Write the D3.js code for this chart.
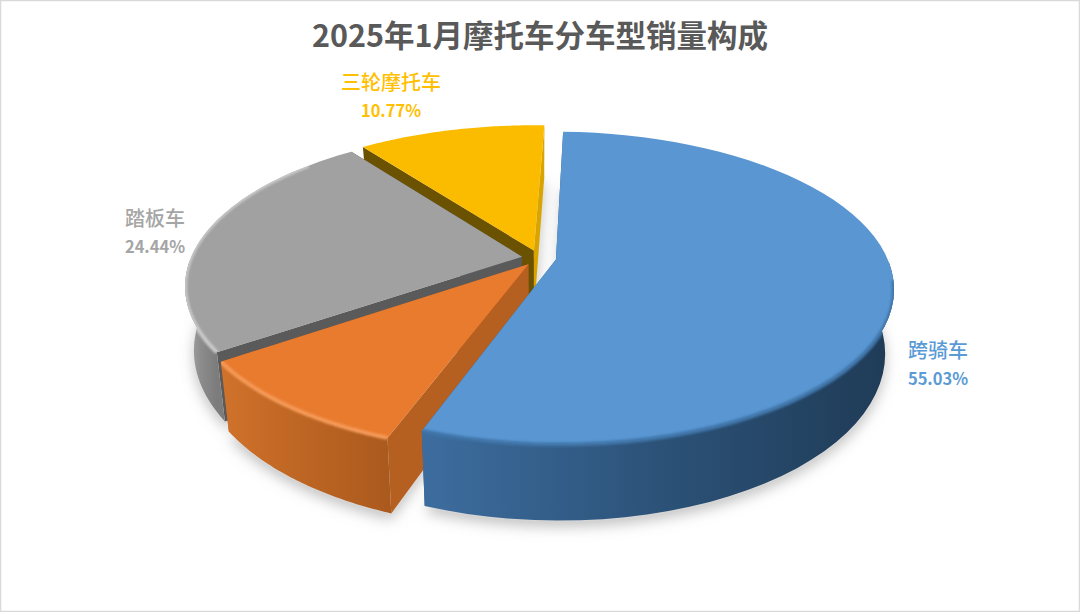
<!DOCTYPE html>
<html>
<head>
<meta charset="utf-8">
<script src="https://cdn.jsdelivr.net/npm/d3@7"></script>
<style>
  html, body { margin: 0; padding: 0; background: #fff; }
  svg { display: block; }
  text { font-family: "Noto Sans CJK SC", sans-serif; }
</style>
</head>
<body>
<svg id="chart" width="1080" height="612"></svg>
<script>
const titleText = "2025年1月摩托车分车型销量构成";
const categories = ["跨骑车", "弯梁车", "踏板车", "三轮摩托车"];
const shares = [55.03, 9.76, 24.44, 10.77];
const labelled = [true, false, true, true];

const width = 1080, height = 612;

// colours for each slice: top face, rim highlight, wall gradient left -> right
const tops = ["#5996d2", "#e97b2e", "#a1a1a1", "#fbbc00"];
const rims = ["#3f74a8", "#f59a58", "#c9c9c9", "#ffd34d"];
const rimFrom = [0.1, 0, -0.7, 2]; // rim is drawn only on the part nearer than this
const wallStops = [
  ["#3d6d9f", "#2c5278", "#1f3b56"],
  ["#d0722b", "#bd6523", "#ab5a1e"],
  ["#a8a8a8", "#8c8c8c", "#7c7c7c"],
  ["#d9a400", "#c79700", "#b58900"]
];
const cutStart = ["#345d85", "#b55f20", "#5a5a5a", "#6b5200"];
const cutEnd = ["#345d85", "#b55f20", "#5a5a5a", "#d9a400"];
const labelColors = ["#5b9bd5", "#ed7d31", "#a5a5a5", "#ffc000"];
const labelSpots = { "跨骑车": [938, 358], "踏板车": [155, 226], "三轮摩托车": [391, 90] };

const svg = d3.select("#chart");
const defs = svg.append("defs");

defs.append("filter").attr("id", "soft").attr("x", "-20%").attr("y", "-20%").attr("width", "140%").attr("height", "140%")
  .append("feGaussianBlur").attr("stdDeviation", 7);
defs.append("filter").attr("id", "edge").attr("x", "-10%").attr("y", "-10%").attr("width", "120%").attr("height", "120%")
  .append("feGaussianBlur").attr("stdDeviation", 1.2);

svg.append("rect").attr("x", 0.5).attr("y", 0.5).attr("width", width - 1).attr("height", height - 1)
  .attr("fill", "#fff").attr("stroke", "#d9d9d9").attr("stroke-width", 1.5);

// simple perspective camera for the tilted disc
const cx = 539, cy = 258, A = 345, B = 157, k = 0.19, H = 62, shrink = 0.025;
const radius = 0.96, explode = 0.05;

function project(x, y, z) {
  const s = 1 / (1 - k * y);
  return [cx + x * A * s * (1 - shrink * z), cy + y * B * s + z * H * s];
}

const pie = d3.pie().sort(null).startAngle(2 * Math.PI / 180).endAngle(362 * Math.PI / 180);
const slices = pie(shares).map((d, i) => {
  const mid = (d.startAngle + d.endAngle) / 2;
  const ox = Math.sin(mid) * explode, oy = -Math.cos(mid) * explode;
  const angles = d3.range(0, 61).map(j => d.startAngle + (d.endAngle - d.startAngle) * j / 60);
  const at = (a, z) => project(ox + Math.sin(a) * radius, oy - Math.cos(a) * radius, z);
  return {
    i, angles,
    apexTop: project(ox, oy, 0),
    apexBot: project(ox, oy, 1),
    arcTop: angles.map(a => at(a, 0)),
    arcBot: angles.map(a => at(a, 1))
  };
});

const line = d3.line();
const closed = pts => line(pts) + "Z";

wallStops.forEach((stops, i) => {
  // only the front half of the rim is seen, so the gradient runs across it
  const front = slices[i].arcTop.filter(p => p[1] > cy);
  const ext = d3.extent(front.length ? front : slices[i].arcTop, p => p[0]);
  const g = defs.append("linearGradient").attr("id", "wall" + i)
    .attr("gradientUnits", "userSpaceOnUse")
    .attr("x1", ext[0]).attr("x2", ext[1]).attr("y1", 0).attr("y2", 0);
  stops.forEach((c, j) => g.append("stop").attr("offset", j / (stops.length - 1)).attr("stop-color", c));
});

// ground shadow, soft one plus the flat one seen through the gap between slices
svg.append("g").attr("filter", "url(#soft)")
  .selectAll("path").data(slices).enter().append("path")
  .attr("d", s => closed([s.apexBot].concat(s.arcBot).map(p => [p[0], p[1] + 6])))
  .attr("fill", "#8c8c8c").attr("opacity", 0.55);
svg.append("g").attr("filter", "url(#edge)")
  .selectAll("path").data(slices).enter().append("path")
  .attr("d", s => closed([s.apexBot].concat(s.arcBot)))
  .attr("fill", "#e6e6e6");

// back to front: yellow, grey, orange, blue
const order = [3, 2, 1, 0];
const pieG = svg.append("g");
order.forEach(i => {
  const s = slices[i];
  const g = pieG.append("g");
  const last = s.arcTop.length - 1;
  const topPath = closed([s.apexTop].concat(s.arcTop));

  // cut faces
  g.append("path").attr("d", closed([s.apexTop, s.arcTop[0], s.arcBot[0], s.apexBot]))
    .attr("fill", cutStart[i]);
  g.append("path").attr("d", closed([s.apexTop, s.arcTop[last], s.arcBot[last], s.apexBot]))
    .attr("fill", cutEnd[i]);

  // outer wall, the part turned away from the viewer is left out
  const nearTop = s.arcTop.filter((p, j) => -Math.cos(s.angles[j]) > 0);
  const nearBot = s.arcBot.filter((p, j) => -Math.cos(s.angles[j]) > 0);
  let wallPath = "";
  if (nearTop.length > 1) {
    wallPath = closed(nearTop.concat(nearBot.slice().reverse()));
    g.append("path").attr("d", wallPath).attr("fill", "url(#wall" + i + ")");
  }

  // top face
  g.append("path").attr("d", topPath).attr("fill", tops[i]);

  // soft bevel along the near part of the rim, clipped so the outline stays sharp
  const rimPts = s.arcTop.filter((p, j) => -Math.cos(s.angles[j]) > rimFrom[i]);
  if (rimPts.length > 1) {
    const clip = defs.append("clipPath").attr("id", "rimClip" + i);
    clip.append("path").attr("d", topPath);
    if (wallPath) clip.append("path").attr("d", wallPath);
    g.append("g").attr("clip-path", "url(#rimClip" + i + ")")
      .append("path").attr("d", line(rimPts)).attr("fill", "none")
      .attr("stroke", rims[i]).attr("stroke-width", 4).attr("filter", "url(#edge)");
  }
});

// title
svg.append("text").attr("x", 540).attr("y", 47).attr("text-anchor", "middle")
  .attr("fill", "#595959").attr("font-size", 30.5).attr("font-weight", 700).text(titleText);

// labels
categories.forEach((name, i) => {
  if (!labelled[i]) return;
  const spot = labelSpots[name];
  const t = svg.append("text").attr("text-anchor", "middle").attr("fill", labelColors[i]);
  t.append("tspan").attr("x", spot[0]).attr("y", spot[1]).attr("font-size", 20).attr("font-weight", 500).text(name);
  t.append("tspan").attr("x", spot[0]).attr("y", spot[1] + 27).attr("font-size", 16.5).attr("font-weight", 700)
    .text(d3.format(".2f")(shares[i]) + "%");
});
</script>
</body>
</html>
